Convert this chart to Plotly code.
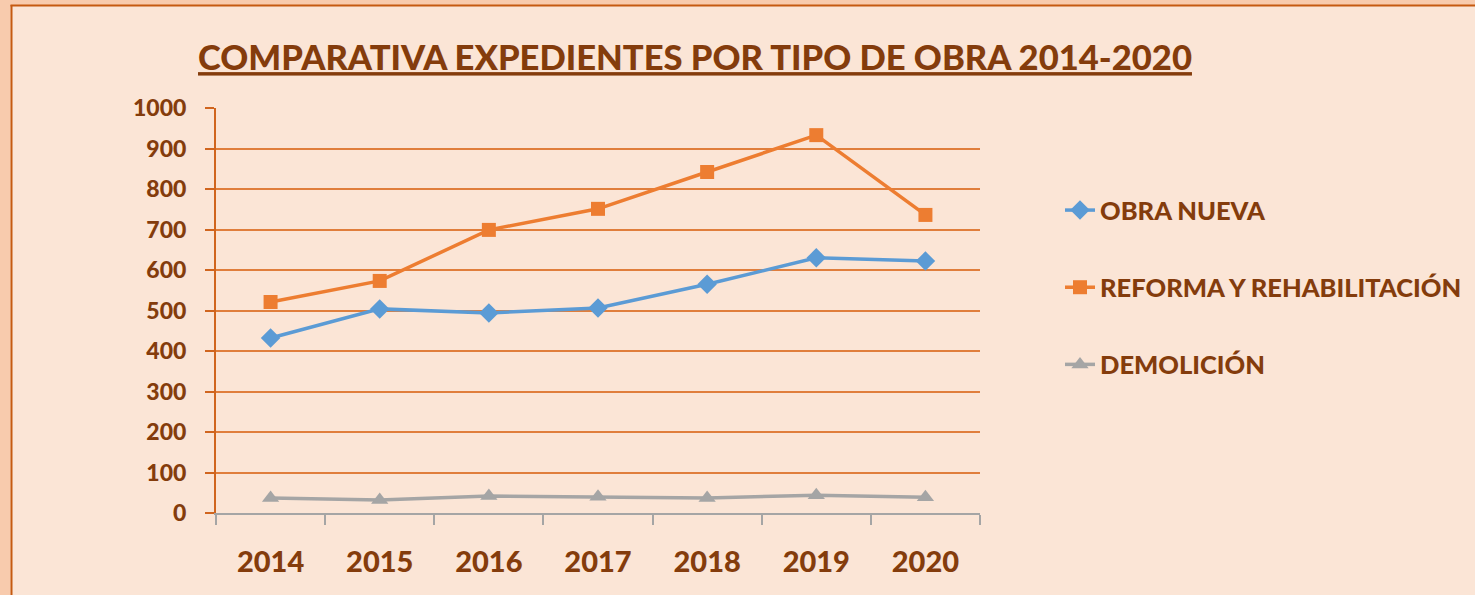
import plotly.graph_objects as go

years = ["2014", "2015", "2016", "2017", "2018", "2019", "2020"]
obra_nueva = [432, 504, 494, 506, 565, 630, 622]
reforma = [521, 573, 699, 751, 842, 933, 736]
demolicion = [37, 32, 42, 40, 37, 44, 39]
series_names = ["OBRA NUEVA", "REFORMA Y REHABILITACIÓN", "DEMOLICIÓN"]

TXT = "#843C0C"
FONT = "Lato"
W, H = 1475, 595
L, R, T, B = 216, 980, 108, 513


def fx(px):
    return (px - L) / (R - L)


def fy(py):
    return (B - py) / (B - T)


fig = go.Figure()
styles = [
    ("#5B9BD5", "diamond", 15),
    ("#ED7D31", "square", 14),
    ("#A5A5A5", "triangle-up", 15),
]
for i, (name, vals) in enumerate(zip(series_names, [obra_nueva, reforma, demolicion])):
    c, sym, sz = styles[i]
    fig.add_trace(go.Scatter(
        x=years, y=vals, name=name, mode="lines+markers",
        line=dict(color=c, width=3.5),
        marker=dict(color=c, symbol=sym, size=sz),
        legendgroup=f"g{i}",
    ))

shapes = [
    dict(type="rect", xref="paper", yref="paper", x0=fx(0), x1=fx(W), y0=fy(0), y1=fy(5),
         fillcolor="#F8CBAD", line=dict(width=0), layer="below"),
    dict(type="rect", xref="paper", yref="paper", x0=fx(0), x1=fx(10.5), y0=fy(0), y1=fy(H),
         fillcolor="#F8CBAD", line=dict(width=0), layer="below"),
    dict(type="line", xref="paper", yref="paper", x0=fx(10.5), x1=fx(W), y0=fy(5.5), y1=fy(5.5),
         line=dict(color="#C55A11", width=2), layer="below"),
    dict(type="line", xref="paper", yref="paper", x0=fx(11.5), x1=fx(11.5), y0=fy(5), y1=fy(H),
         line=dict(color="#C55A11", width=2), layer="below"),
]

fig.update_layout(
    width=W, height=H,
    margin=dict(l=L, r=W - R, t=T, b=H - B, autoexpand=False),
    paper_bgcolor="#FBE5D6",
    plot_bgcolor="rgba(0,0,0,0)",
    shapes=shapes,
    title=dict(
        text="<u>COMPARATIVA EXPEDIENTES POR TIPO DE OBRA 2014-2020</u>",
        font=dict(family=FONT, size=34.6, color=TXT, weight=900),
        x=695 / W, xanchor="center", xref="container",
        y=1 - 58 / H, yanchor="middle", yref="container",
    ),
    xaxis=dict(
        type="category", range=[-0.5, 6.5],
        tickson="boundaries", ticks="outside", ticklen=10, tickcolor="#A5A5A5", tickwidth=1.5,
        showline=True, linecolor="#A5A5A5", linewidth=1.5,
        showgrid=False, zeroline=False,
        tickfont=dict(family=FONT, size=29, color=TXT, weight=900),
        ticklabelstandoff=22,
    ),
    yaxis=dict(
        range=[0, 1000], dtick=100, tick0=0,
        ticks="outside", ticklen=9, tickcolor="#D0651E", tickwidth=1.5,
        showline=True, linecolor="#D0651E", linewidth=2,
        showgrid=True, gridcolor="#E07E3C", gridwidth=1.5,
        zeroline=False,
        tickfont=dict(family=FONT, size=23, color=TXT, weight=900),
        ticklabelstandoff=14,
    ),
    legend=dict(
        x=fx(1060), xanchor="left", y=fy(187), yanchor="top",
        bgcolor="rgba(0,0,0,0)",
        font=dict(family=FONT, size=25.5, color=TXT, weight=900),
        tracegroupgap=41, traceorder="grouped",
    ),
    showlegend=True,
)

fig.write_html("out.html", config={"displayModeBar": False},
               post_script="document.body.style.margin='0';")
